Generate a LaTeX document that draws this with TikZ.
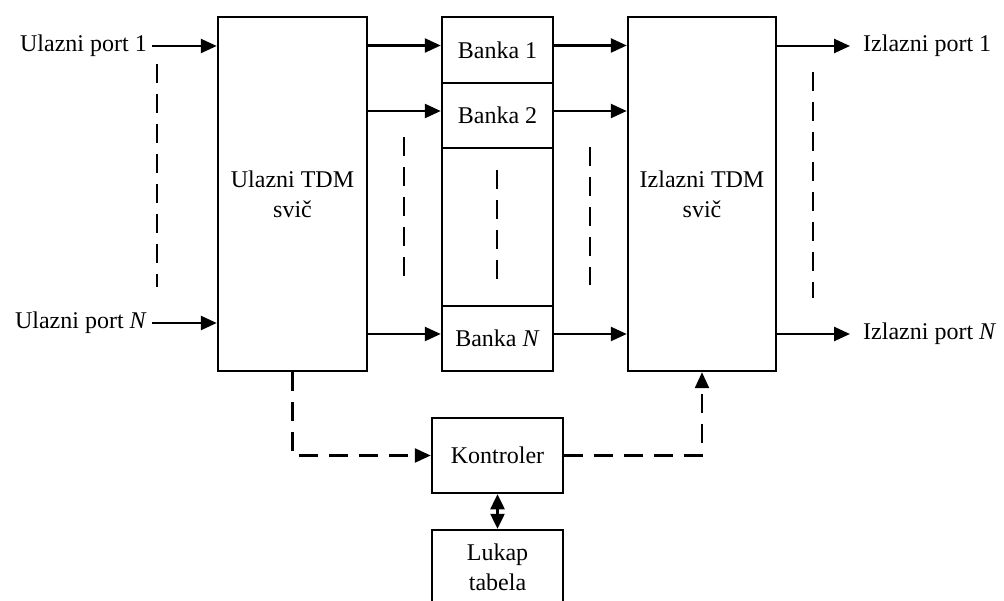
\documentclass[tikz,border=0pt]{standalone}
\usepackage{fontspec}
\setmainfont{Liberation Serif}
\usetikzlibrary{arrows.meta}
\begin{document}
\begin{tikzpicture}[x=1pt,y=-1pt,
  every node/.style={font=\fontsize{24}{30}\selectfont},
  blk/.style={draw, line width=2.5pt, rectangle, inner sep=0pt, align=center},
  lbl/.style={inner xsep=5pt, inner ysep=0pt},
  arr/.style={line width=2.5pt, -{Triangle[length=16pt,width=14pt]}},
  darr/.style={line width=2.5pt, {Triangle[length=15pt,width=14pt]}-{Triangle[length=15pt,width=14pt]}},
  dsh/.style={line width=2.5pt, dash pattern=on 19pt off 11pt}]
\useasboundingbox (0,0) rectangle (1004,601);
\clip (0,0) rectangle (1004,601);

% switches
\node[blk, minimum width=149, minimum height=354] (inbox) at (292.5,194) {Ulazni TDM\\svič};
\node[blk, minimum width=148, minimum height=354] (outbox) at (702,194) {Izlazni TDM\\svič};

% memory banks
\node[blk, minimum width=111, minimum height=66] (b1) at (497.5,50) {Banka 1};
\node[blk, minimum width=111, minimum height=65] (b2) at (497.5,115.5) {Banka 2};
\node[blk, minimum width=111, minimum height=158] (bmid) at (497.5,227) {};
\node[blk, minimum width=111, minimum height=65] (bN) at (497.5,338.5) {Banka \textit{N}};

% control
\node[blk, minimum width=131, minimum height=75] (ctrl) at (497.5,455.5) {Kontroler};
\node[blk, minimum width=131, minimum height=75] (lut) at (497.5,567.5) {Lukap\\tabela};

% port labels
\node[lbl, anchor=east] (lin1) at (152,46) {Ulazni port 1};
\node[lbl, anchor=east] (linN) at (152,323) {Ulazni port \textit{N}};
\node[lbl, anchor=west, inner xsep=13pt] (lout1) at (850,46) {Izlazni port 1};
\node[lbl, anchor=west, inner xsep=13pt] (loutN) at (850,334) {Izlazni port \textit{N}};

% inputs
\draw[arr] (lin1.east) -- (lin1.east -| inbox.west);
\draw[arr] (linN.east) -- (linN.east -| inbox.west);

% switch to banks
\draw[arr] ([yshift=4.5pt]b1.west -| inbox.east) -- ([yshift=4.5pt]b1.west);
\draw[arr] ([yshift=4.5pt]b2.west -| inbox.east) -- ([yshift=4.5pt]b2.west);
\draw[arr] ([yshift=4.5pt]bN.west -| inbox.east) -- ([yshift=4.5pt]bN.west);

% banks to switch
\draw[arr] ([yshift=4.5pt]b1.east) -- ([yshift=4.5pt]b1.east -| outbox.west);
\draw[arr] ([yshift=4.5pt]b2.east) -- ([yshift=4.5pt]b2.east -| outbox.west);
\draw[arr] ([yshift=4.5pt]bN.east) -- ([yshift=4.5pt]bN.east -| outbox.west);

% outputs
\draw[arr] (lout1.west -| outbox.east) -- (lout1.west);
\draw[arr] (loutN.west -| outbox.east) -- (loutN.west);

% ellipsis marks
\draw[dsh] (157,64) -- (157,287);
\draw[dsh] (404,137) -- (404,276);
\draw[dsh] (497,170) -- (497,279);
\draw[dsh] (590,147) -- (590,285);
\draw[dsh] (813,72) -- (813,298);

% control paths
\draw[dsh, arr] (inbox.south) |- (ctrl.west);
\draw[dsh, arr] (ctrl.east) -| (outbox.south);
\draw[darr] (ctrl.south) -- (lut.north);
\end{tikzpicture}
\end{document}
